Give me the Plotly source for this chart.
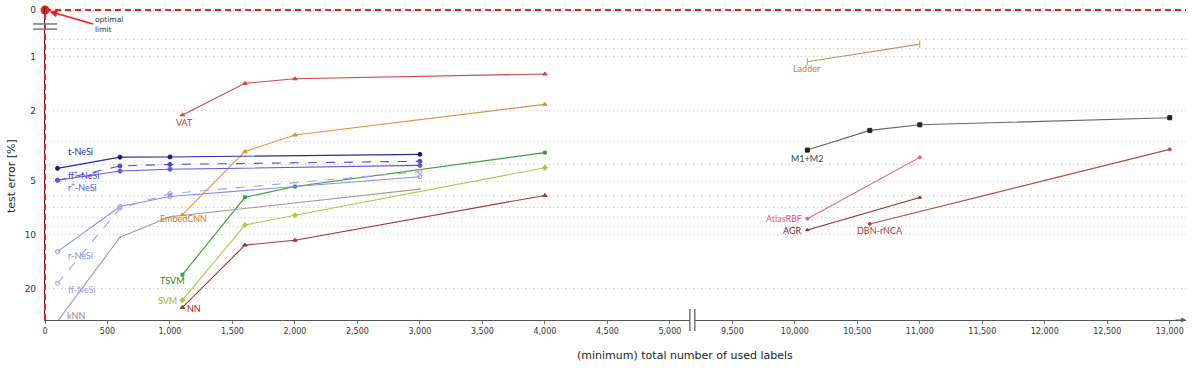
import math
import plotly.graph_objects as go

# ---------------- data ----------------
X_STD = [1100, 1600, 2000, 4000]
VAT = [2.12, 1.41, 1.33, 1.25]
EMBEDCNN = [7.7, 3.4, 2.75, 1.85]
TSVM = [16.7, 6.15, 5.35, 3.45]
SVM = [23.2, 8.8, 7.75, 4.2]
NN = [25.5, 11.4, 10.7, 6.0]

X_KNN = [100, 600, 1000, 3000]
KNN = [30.5, 10.3, 7.9, 5.53]

X_NESI = [100, 600, 1000, 3000]
T_NESI = [4.23, 3.66, 3.65, 3.53]
FFP_NESI = [4.93, 4.10, 4.02, 3.86]
RP_NESI = [4.93, 4.38, 4.28, 4.07]
R_NESI = [12.4, 6.92, 6.08, 4.71]
FF_NESI = [18.7, 7.08, 5.86, 4.42]

X_LADDER = [10100, 11000]
LADDER = [1.066, 0.85]
X_M1M2 = [10100, 10600, 11000, 13000]
M1M2 = [3.34, 2.59, 2.41, 2.20]
X_ATLAS = [10100, 11000]
ATLAS = [8.1, 3.67]
X_AGR = [10100, 11000]
AGR = [9.37, 6.16]
X_DBN = [10600, 13000]
DBN = [8.67, 3.31]

OPTIMAL_X = 0
OPTIMAL_Y = 0

X_TICKS = [0, 500, 1000, 1500, 2000, 2500, 3000, 3500, 4000, 4500, 5000,
           9500, 10000, 10500, 11000, 11500, 12000, 12500, 13000]
Y_TICKS = [0, 1, 2, 5, 10, 20]
Y_GRID = [0.8, 0.9, 1, 2, 3, 4, 5, 6, 7, 8, 9, 10, 20]

X_TITLE = "(minimum) total number of used labels"
Y_TITLE = "test error [%]"

# ---------------- broken-axis mapping ----------------
X_BREAK = 5000
X_SKIP = 4000
ZERO_POS = 0.547  # where "0" sits on the broken log axis
Y_BOTTOM = 30.0
Y_TOP_LOG = -0.279
X_RANGE = [0, 9130]
X_BREAK_MARKS_EFF = [5160, 5200]  # positions of the "||" symbol on the compressed axis


def xp(v):
    return v if v <= X_BREAK else v - X_SKIP


def yp(v):
    return v if v > 0 else ZERO_POS


def xs(lst):
    return [xp(v) for v in lst]


def ypaper(v):
    lo = math.log10(Y_BOTTOM)
    return (math.log10(yp(v)) - lo) / (Y_TOP_LOG - lo)


def effpaper(e):
    return (e - X_RANGE[0]) / (X_RANGE[1] - X_RANGE[0])


def xpaper(v):
    return effpaper(xp(v))


LABEL_FONT = "Lato"

fig = go.Figure()

series = [
    # name, x, y, color, dash, symbol, size, label, dx, dy, anchor, label color
    ("VAT", X_STD, VAT, "#d44545", "solid", "triangle-up", 4, "VAT", 2, 8, "center", "#cc3333"),
    ("EmbedCNN", X_STD, EMBEDCNN, "#e39040", "solid", "triangle-up", 4, "EmbedCNN", 1, 4, "center", "#d07a20"),
    ("TSVM", X_STD, TSVM, "#38a038", "solid", "square", 3, "TSVM", -10, 6, "center", "#208a20"),
    ("SVM", X_STD, SVM, "#aacc44", "solid", "diamond", 4, "SVM", -3, 0, "right", "#99bb22"),
    ("NN", X_STD, NN, "#a83535", "solid", "triangle-up", 4, "NN", 3, 1, "left", "#a02020"),
    ("kNN", X_KNN, KNN, "#a89898", "solid", "circle", 1, "kNN", 0, 0, "center", "#908888"),
    ("t-NeSi", X_NESI, T_NESI, "#2a2a95", "solid", "circle", 4, "t-NeSi", 23, -17, "center", "#2a2a95"),
    ("ff+-NeSi", X_NESI, FFP_NESI, "#4a4ad8", "dash", "circle", 4, "ff<sup>+</sup>-NeSi", 8, -5, "left", "#4a4ad8"),
    ("r+-NeSi", X_NESI, RP_NESI, "#5a5ae0", "solid", "circle", 4, "r<sup>+</sup>-NeSi", 8, 7, "left", "#5a5ae0"),
    ("r-NeSi", X_NESI, R_NESI, "#8a8af2", "solid", "circle-open", 4, "r-NeSi", 8, 4, "left", "#8a8af2"),
    ("ff-NeSi", X_NESI, FF_NESI, "#a0a0f4", "dash", "circle-open", 4, "ff-NeSi", 8, 6, "left", "#a0a0f4"),
    ("Ladder", X_LADDER, LADDER, "#c89058", "solid", "line-ns", 5, "Ladder", 0, 7, "center", "#c08040"),
    ("M1+M2", X_M1M2, M1M2, "#666666", "solid", "square", 4, "M1+M2", 0, 8, "center", "#444444"),
    ("AtlasRBF", X_ATLAS, ATLAS, "#e25a9c", "solid", "circle", 3, "AtlasRBF", -3, 0, "right", "#e0508a"),
    ("AGR", X_AGR, AGR, "#8e2a2a", "solid", "triangle-up", 3, "AGR", -3, 1, "right", "#802020"),
    ("DBN-rNCA", X_DBN, DBN, "#b84848", "solid", "circle", 3, "DBN-rNCA", 10, 7, "center", "#b03838"),
]

marker_colors = {"M1+M2": "#222222", "t-NeSi": "#1a1a80"}

for name, x, y, col, dash, sym, size, label, dx, dy, anchor, lcol in series:
    fig.add_trace(go.Scatter(
        x=xs(x), y=y, mode="lines+markers", name=name,
        line=dict(color=col, width=1.1, dash="dash" if dash == "dash" else "solid"),
        marker=dict(symbol=sym, size=size, color=marker_colors.get(name, col),
                    line=dict(color=marker_colors.get(name, col), width=1)),
        showlegend=False, hoverinfo="skip",
    ))
    if name == "kNN":
        # first kNN point lies on the lower edge: anchor its label to the axis
        fig.add_annotation(
            x=xp(x[0]), y=0, yref="paper", text=label, showarrow=False,
            xshift=18, yshift=5, xanchor="center", yanchor="middle",
            font=dict(family=LABEL_FONT, size=9, color=lcol),
        )
        continue
    fig.add_annotation(
        x=xp(x[0]), y=math.log10(y[0]), text=label, showarrow=False,
        xshift=dx, yshift=-dy, xanchor=anchor, yanchor="middle",
        font=dict(family=LABEL_FONT, size=9, color=lcol),
    )

# optimal limit lines (paper refs so they are not clipped at the plot edge)
RED = "#ff1a1a"
fig.add_shape(type="line", xref="paper", yref="paper",
              x0=xpaper(OPTIMAL_X), x1=1.0, y0=ypaper(OPTIMAL_Y), y1=ypaper(OPTIMAL_Y),
              line=dict(color=RED, width=2, dash="6px,4px"), layer="above")
fig.add_shape(type="line", xref="paper", yref="paper",
              x0=xpaper(OPTIMAL_X), x1=xpaper(OPTIMAL_X), y0=0, y1=ypaper(OPTIMAL_Y),
              line=dict(color=RED, width=2, dash="6px,4px"), layer="above")
fig.add_trace(go.Scatter(
    x=[xp(OPTIMAL_X)], y=[yp(OPTIMAL_Y)], mode="markers",
    marker=dict(color=RED, size=9), cliponaxis=False, showlegend=False, hoverinfo="skip"))
fig.add_annotation(
    x=xp(OPTIMAL_X), y=math.log10(yp(OPTIMAL_Y)), text="optimal<br>limit",
    showarrow=True, ax=48, ay=14, xanchor="left", yanchor="middle", align="left",
    arrowcolor=RED, arrowwidth=1.5, arrowhead=2, arrowsize=1, standoff=5,
    font=dict(family="DejaVu Sans", size=7.5, color="#333333"),
)

# y-axis break marks "="
for yy in [0.655, 0.70]:
    fig.add_shape(type="line", xref="paper", yref="paper", xsizemode="pixel", xanchor=0,
                  x0=-12, x1=12, y0=ypaper(yy), y1=ypaper(yy),
                  line=dict(color="#777777", width=1.5), layer="above")

# x-axis break marks "||"
fig.add_shape(type="rect", xref="paper", yref="paper", ysizemode="pixel", yanchor=0,
              x0=effpaper(X_BREAK_MARKS_EFF[0]), x1=effpaper(X_BREAK_MARKS_EFF[1]),
              y0=-2, y1=2, fillcolor="white", line=dict(width=0), layer="above")
for e in X_BREAK_MARKS_EFF:
    fig.add_shape(type="line", xref="paper", yref="paper", ysizemode="pixel", yanchor=0,
                  x0=effpaper(e), x1=effpaper(e), y0=-11, y1=11,
                  line=dict(color="#555555", width=1.2), layer="above")

# x-axis arrow
fig.add_annotation(x=1.0, y=0, xref="paper", yref="paper", ax=-12, ay=0, text="",
                   showarrow=True, arrowhead=2, arrowsize=0.8, arrowwidth=1.2, arrowcolor="#555555")

# axis titles (placed as in the reference)
fig.add_annotation(x=0.561, y=0, xref="paper", yref="paper", yshift=-35, text=X_TITLE,
                   showarrow=False, xanchor="center", yanchor="middle",
                   font=dict(family="DejaVu Sans", size=11, color="#222222"))
fig.add_annotation(x=0, y=0.46, xref="paper", yref="paper", xshift=-34, text=Y_TITLE,
                   showarrow=False, textangle=-90, xanchor="center", yanchor="middle",
                   font=dict(family="DejaVu Sans", size=11, color="#222222"))

GRID = "#c4c4c4"
fig.update_layout(
    width=1200, height=368,
    margin=dict(l=45, r=14, t=5, b=48),
    paper_bgcolor="white", plot_bgcolor="white",
    font=dict(family="DejaVu Sans", size=9, color="#333333"),
    xaxis=dict(
        range=X_RANGE, tickvals=xs(X_TICKS), ticktext=[f"{v:,}" for v in X_TICKS],
        showgrid=False, zeroline=False, showline=True, linecolor="#555555", linewidth=1.2,
        ticks="outside", ticklen=3, tickcolor="#777777", tickfont=dict(size=8, color="#333333"),
    ),
    yaxis=dict(
        type="log", range=[math.log10(Y_BOTTOM), Y_TOP_LOG],
        tickvals=[yp(v) for v in Y_TICKS], ticktext=[str(v) for v in Y_TICKS],
        showgrid=True, gridcolor=GRID, griddash="1px,3px", gridwidth=1,
        minor=dict(tickvals=Y_GRID, showgrid=True, gridcolor=GRID, griddash="1px,3px",
                   gridwidth=1, ticklen=0),
        zeroline=False, showline=True, linecolor="#222222", linewidth=1.2,
        ticks="", ticklabelstandoff=6, tickfont=dict(size=9, color="#333333"),
    ),
)

fig.write_html("out.html")
